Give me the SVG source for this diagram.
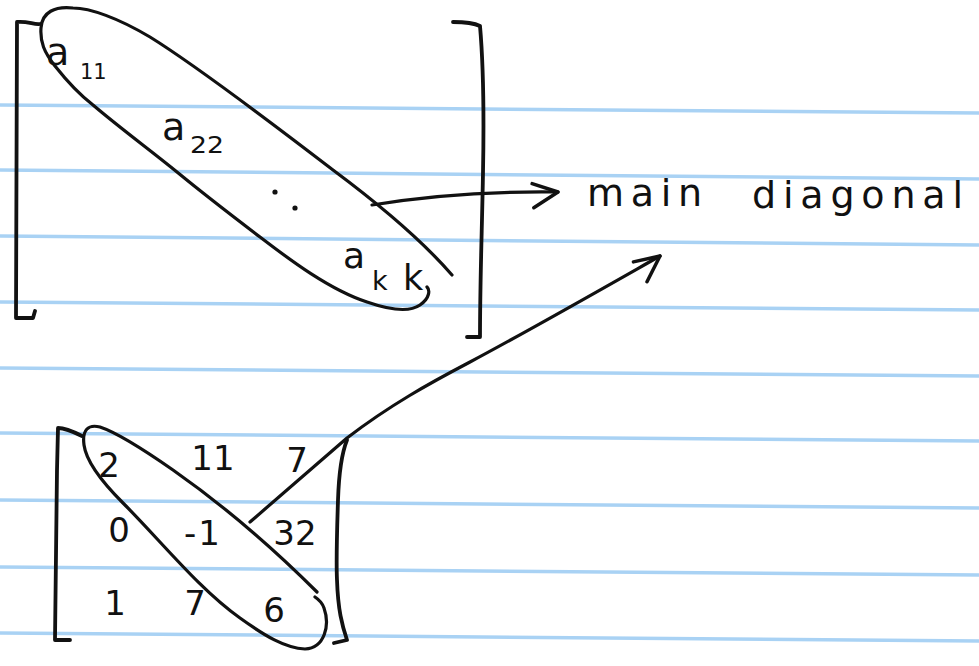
<svg xmlns="http://www.w3.org/2000/svg" width="979" height="666" viewBox="0 0 979 666">
<style>
.rule{stroke:#a9d2f4;stroke-width:3.5;fill:none}
.ink{stroke:#111;stroke-width:3.2;fill:none;stroke-linecap:round;stroke-linejoin:round}
.br{stroke:#111;stroke-width:3.8;fill:none;stroke-linecap:round;stroke-linejoin:round}
.t{font-family:"DejaVu Sans","Liberation Sans",sans-serif;fill:#111}
.num{font-family:"DejaVu Sans","Liberation Sans",sans-serif;fill:#111;font-size:34px;text-anchor:middle}
</style>
<defs>
<marker id="ah" markerUnits="userSpaceOnUse" markerWidth="40" markerHeight="40" refX="30" refY="20" orient="auto" viewBox="0 0 40 40" overflow="visible">
<path d="M4,12 L30,20 L6,36" fill="none" stroke="#111" stroke-width="3.5" stroke-linecap="round" stroke-linejoin="round"/>
</marker>
</defs>
<rect width="979" height="666" fill="#fff"/>
<g id="paper">
<line class="rule" x1="0" y1="105" x2="979" y2="113"/>
<line class="rule" x1="0" y1="170" x2="979" y2="179"/>
<line class="rule" x1="0" y1="236" x2="979" y2="245"/>
<line class="rule" x1="0" y1="302" x2="979" y2="310"/>
<line class="rule" x1="0" y1="368" x2="979" y2="376"/>
<line class="rule" x1="0" y1="433" x2="979" y2="441"/>
<line class="rule" x1="0" y1="500" x2="979" y2="508"/>
<line class="rule" x1="0" y1="567" x2="979" y2="575"/>
<line class="rule" x1="0" y1="633" x2="979" y2="641"/>
</g>
<g id="matrix-general">
<path class="br" d="M40,24 C34,25 28,21 17,22 L16,318 L33,318 L35,311"/>
<path class="br" d="M453,22 C465,22 474,23 480,26 C483,60 484,120 483,173 C482,230 480,280 480,337 L467,337"/>
<path class="ink" d="M452,275 C420,238 380,205 333,170 C290,137 200,68 150,37 C118,18 90,8 73,8 C55,6 42,12 41,28 C40,42 44,52 55,66 C70,85 80,95 93,105 C120,128 150,150 177,172 C205,195 235,218 260,237 C290,260 330,290 367,302 C390,310 410,312 420,305 C430,298 430,290 427,287"/>
<text class="t"><tspan x="46" y="65" font-size="38">a</tspan><tspan x="80" y="79" font-size="21">11</tspan></text>
<text class="t"><tspan x="162" y="140" font-size="38">a</tspan><tspan x="190" y="153" font-size="23" textLength="34" lengthAdjust="spacingAndGlyphs">22</tspan></text>
<circle cx="275" cy="192" r="2.6" fill="#111"/>
<circle cx="295" cy="208" r="2.6" fill="#111"/>
<text class="t"><tspan x="343" y="268" font-size="36">a</tspan><tspan x="372" y="290" font-size="27">k</tspan><tspan x="403" y="290" font-size="35">k</tspan></text>
</g>
<g id="matrix-example">
<path class="br" d="M82,436 C74,432 66,428 58,428 L57,470 L55,640 L70,640"/>
<path class="br" d="M347,440 C343,450 339,470 338,500 C337,530 336,560 337,580 C338,610 342,625 347,640 L334,643"/>
<path class="ink" d="M317,592 C280,555 230,510 173,470 C140,447 115,432 100,427 C88,424 82,430 84,445 C86,460 100,480 123,503 C160,540 200,590 240,618 C265,636 285,648 305,649 C325,648 330,625 324,608 C322,602 318,599 315,597"/>
<text class="num" x="109" y="477">2</text>
<text class="num" x="213" y="470">11</text>
<text class="num" x="297" y="472">7</text>
<text class="num" x="119" y="542" font-size="20">0</text>
<text class="num" x="202" y="545" font-size="32" textLength="36">-1</text>
<text class="num" x="295" y="545" font-size="30">32</text>
<text class="num" x="115" y="615">1</text>
<text class="num" x="195" y="615">7</text>
<text class="num" x="274" y="622">6</text>
</g>
<g id="label-main-diagonal">
<text class="t" x="587" y="206" font-size="38" textLength="115" lengthAdjust="spacing">main</text>
<text class="t" x="752" y="208" font-size="38" textLength="211" lengthAdjust="spacing">diagonal</text>
</g>
<g id="connectors">
<path class="ink" d="M372,205 C420,197 480,191 558,192" marker-end="url(#ah)"/>
<path class="ink" d="M250,522 L347,438 C390,405 430,383 470,362 C530,330 600,290 660,256" marker-end="url(#ah)"/>
</g>
</svg>
